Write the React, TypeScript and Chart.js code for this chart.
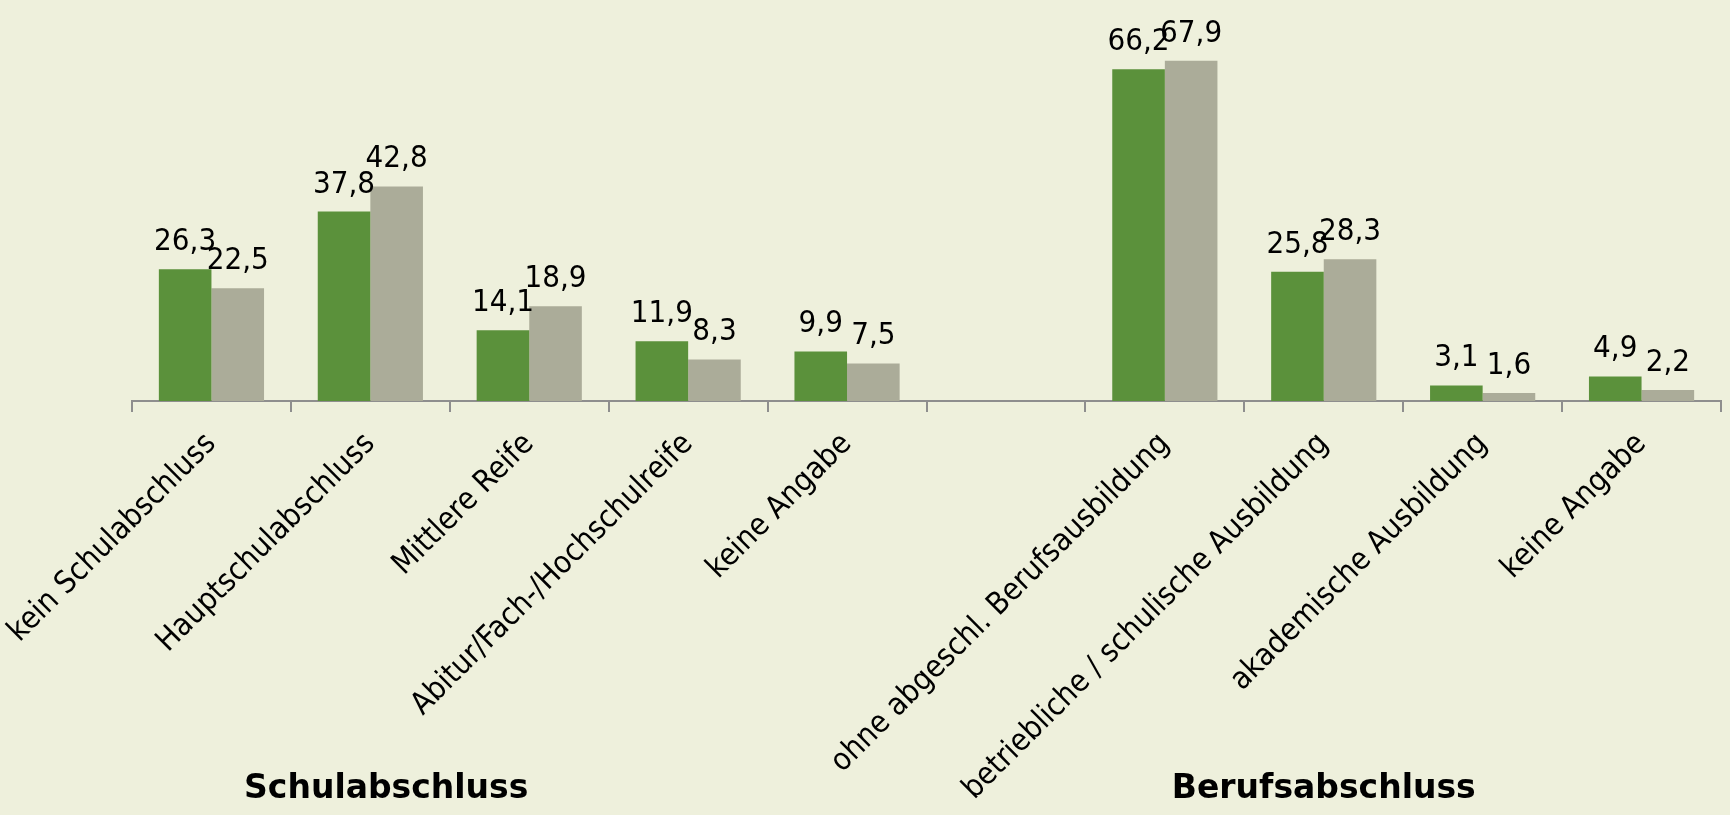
import React, { useEffect, useRef } from 'react';
import { Chart, registerables } from 'chart.js';

Chart.register(...registerables);

const categories = [
  'kein Schulabschluss',
  'Hauptschulabschluss',
  'Mittlere Reife',
  'Abitur/Fach-/Hochschulreife',
  'keine Angabe',
  '',
  'ohne abgeschl. Berufsausbildung',
  'betriebliche / schulische Ausbildung',
  'akademische Ausbildung',
  'keine Angabe',
];
const seriesGreen: (number | null)[] = [26.3, 37.8, 14.1, 11.9, 9.9, null, 66.2, 25.8, 3.1, 4.9];
const seriesGrey: (number | null)[] = [22.5, 42.8, 18.9, 8.3, 7.5, null, 67.9, 28.3, 1.6, 2.2];
const groupTitles = ['Schulabschluss', 'Berufsabschluss'];
const groupTitleAt = [1.1, 7];

const BG = '#EEF0DC';
const GREEN = '#5B913B';
const GREY = '#ABAC99';
const AXIS = '#8E8E8E';
const REG = "'DejaVu Sans Condensed', 'DejaVu Sans', sans-serif";
const BOLD = "'DejaVu Sans', sans-serif";

const bgPlugin = {
  id: 'bg',
  beforeDraw(chart: any) {
    const { ctx, width, height } = chart;
    ctx.save();
    ctx.fillStyle = BG;
    ctx.fillRect(0, 0, width, height);
    ctx.restore();
  },
};

const labelPlugin = {
  id: 'valueLabels',
  afterDatasetsDraw(chart: any) {
    const { ctx } = chart;
    ctx.save();
    ctx.font = `31px ${REG}`;
    ctx.fillStyle = '#000';
    ctx.textAlign = 'center';
    ctx.textBaseline = 'alphabetic';
    chart.data.datasets.forEach((ds: any, di: number) => {
      const meta = chart.getDatasetMeta(di);
      meta.data.forEach((bar: any, i: number) => {
        const v = ds.data[i];
        if (v === null || v === undefined) return;
        const txt = v.toFixed(1).replace('.', ',');
        ctx.fillText(txt, bar.x, bar.y - 19);
      });
    });
    ctx.restore();
  },
};

const groupPlugin = {
  id: 'groupTitles',
  afterDraw(chart: any) {
    const { ctx } = chart;
    const xs = chart.scales.x;
    ctx.save();
    ctx.font = `bold 33px ${BOLD}`;
    ctx.fillStyle = '#000';
    ctx.textAlign = 'center';
    ctx.textBaseline = 'alphabetic';
    groupTitles.forEach((t, i) => {
      ctx.fillText(t, xs.getPixelForValue(groupTitleAt[i]), chart.height - 17);
    });
    ctx.restore();
  },
};

export default function App() {
  const ref = useRef<HTMLCanvasElement | null>(null);
  useEffect(() => {
    if (!ref.current) return;
    const chart = new Chart(ref.current, {
      type: 'bar',
      data: {
        labels: categories,
        datasets: [
          { label: 'A', data: seriesGreen, backgroundColor: GREEN, borderWidth: 0 },
          { label: 'B', data: seriesGrey, backgroundColor: GREY, borderWidth: 0 },
        ],
      },
      options: {
        responsive: false,
        maintainAspectRatio: false,
        animation: false,
        layout: { padding: { left: 132, right: 9, top: 0, bottom: 0 } },
        datasets: { bar: { categoryPercentage: 0.662, barPercentage: 1 } },
        plugins: { legend: { display: false }, tooltip: { enabled: false }, title: { display: false } },
        scales: {
          y: { display: false, min: 0, max: 80 },
          x: {
            grid: { display: true, drawOnChartArea: false, drawTicks: true, tickLength: 11, color: AXIS, lineWidth: 2, offset: true },
            border: { display: true, color: AXIS, width: 2 },
            ticks: {
              autoSkip: false,
              maxRotation: 45,
              minRotation: 45,
              padding: 14,
              color: '#000',
              font: { family: REG, size: 31 },
            },
            afterFit(scale: any) {
              scale.height = 414;
              scale.paddingLeft = 0;
              scale.paddingRight = 0;
            },
          },
        },
      },
      plugins: [bgPlugin, labelPlugin, groupPlugin],
    } as any);
    return () => chart.destroy();
  }, []);
  return (
    <div style={{ position: 'fixed', left: 0, top: 0, width: 1730, height: 815, background: BG }}>
      <canvas ref={ref} width={1730} height={815} style={{ display: 'block' }} />
    </div>
  );
}
